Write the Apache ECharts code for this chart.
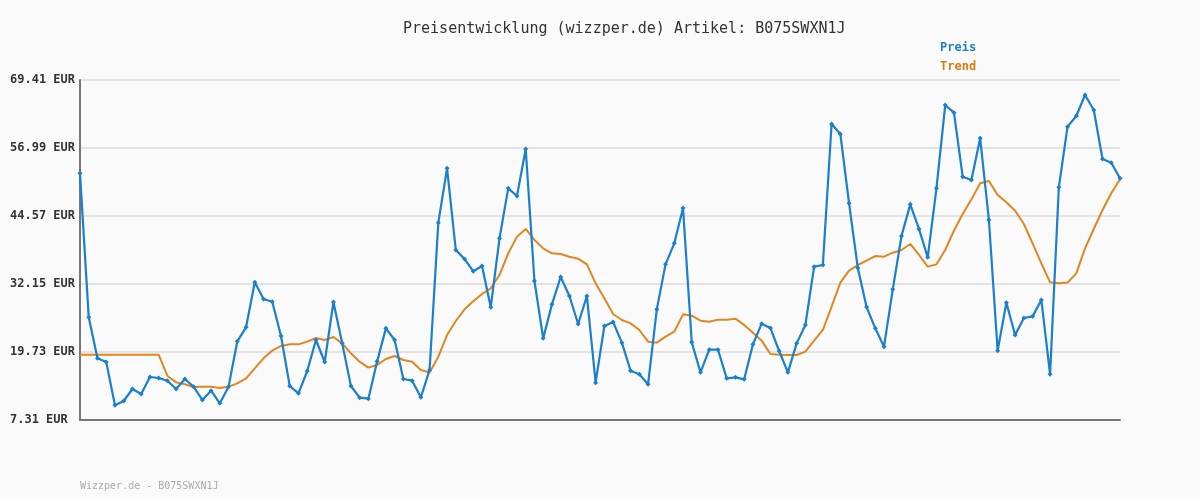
<!DOCTYPE html>
<html>
<head>
<meta charset="utf-8">
<script src="https://cdn.jsdelivr.net/npm/echarts@6/dist/echarts.min.js"></script>
<style>
  html, body { margin: 0; padding: 0; background: #fafafa; }
  #chart { width: 1200px; height: 500px; }
</style>
</head>
<body>
<div id="chart"></div>
<script>
// Preis je Messpunkt (120 Stück)
const preis = [
  52.36, 26.06, 18.57, 17.90, 9.99, 10.78, 12.97, 12.06, 15.16, 14.98,
  14.49, 12.97, 14.80, 13.39, 10.96, 12.66, 10.36, 13.39, 21.68, 24.24,
  32.46, 29.41, 28.92, 22.65, 13.52, 12.18, 16.26, 21.92, 17.90, 28.86,
  21.31, 13.52, 11.39, 11.21, 18.02, 24.05, 21.92, 14.80, 14.49, 11.45,
  16.44, 43.35, 53.28, 38.36, 36.72, 34.46, 35.44, 27.89, 40.49, 49.62,
  48.22, 56.81, 32.70, 22.22, 28.43, 33.43, 29.96, 24.84, 29.96, 14.13,
  24.48, 25.21, 21.43, 16.32, 15.65, 13.83, 27.52, 35.74, 39.58, 46.03,
  21.49, 16.01, 20.15, 20.15, 14.92, 15.10, 14.74, 21.13, 24.90, 24.11,
  19.91, 16.01, 21.31, 24.66, 35.32, 35.62, 61.37, 59.55, 46.88, 35.07,
  27.95, 24.05, 20.70, 31.17, 40.92, 46.70, 42.20, 37.02, 49.62, 64.84,
  63.44, 51.75, 51.14, 58.76, 43.84, 19.97, 28.74, 22.83, 25.94, 26.24,
  29.23, 15.65, 49.81, 60.89, 62.83, 66.67, 63.93, 54.98, 54.31, 51.45
];

// Trendlinie
const trend = [
  19.24, 19.24, 19.24, 19.24, 19.24, 19.24, 19.24, 19.24, 19.24, 19.24,
  15.35, 14.19, 13.83, 13.34, 13.40, 13.40, 13.16, 13.40, 14.01, 14.92,
  16.75, 18.57, 20.00, 20.83, 21.13, 21.13, 21.62, 22.29, 21.92, 22.47,
  21.31, 19.49, 17.96, 16.87, 17.35, 18.45, 19.00, 18.27, 17.96, 16.44,
  15.96, 18.88, 22.83, 25.39, 27.52, 29.00, 30.32, 31.36, 33.79, 37.75,
  40.80, 42.20, 40.19, 38.66, 37.75, 37.63, 37.14, 36.78, 35.74, 32.27,
  29.53, 26.67, 25.57, 24.96, 23.75, 21.62, 21.43, 22.53, 23.44, 26.61,
  26.37, 25.45, 25.27, 25.64, 25.64, 25.82, 24.66, 23.26, 21.80, 19.36,
  19.24, 19.18, 19.18, 19.79, 21.80, 23.75, 28.01, 32.39, 34.59, 35.62,
  36.41, 37.26, 37.14, 37.87, 38.36, 39.46, 37.45, 35.32, 35.74, 38.36,
  41.89, 44.94, 47.61, 50.54, 50.96, 48.41, 47.07, 45.54, 43.11, 39.58,
  35.92, 32.46, 32.27, 32.41, 34.10, 38.66, 42.20, 45.67, 48.71, 51.27
];

const kategorien = preis.map((v, i) => String(i + 1));

const yMin = 7.31;
const yMax = 69.41;
const yStep = 12.42;

const mono = '"DejaVu Sans Mono", "Liberation Mono", monospace';

const chart = echarts.init(document.getElementById('chart'), null, { renderer: 'canvas' });

chart.setOption({
  backgroundColor: '#fafafa',
  animation: false,
  textStyle: { fontFamily: mono },
  title: {
    text: 'Preisentwicklung (wizzper.de) Artikel: B075SWXN1J',
    left: 398,
    top: 17,
    textStyle: { fontFamily: mono, fontSize: 15, fontWeight: 'normal', color: '#333' }
  },
  legend: {
    orient: 'vertical',
    left: 935,
    top: 37,
    itemGap: 7,
    icon: 'none',
    itemWidth: 0,
    itemHeight: 12,
    data: [
      { name: 'Preis', textStyle: { color: '#1a7fcc' } },
      { name: 'Trend', textStyle: { color: '#dd7a10' } }
    ],
    textStyle: { fontFamily: mono, fontSize: 12, fontWeight: 'bold', padding: [0, 0, 0, -5] }
  },
  graphic: [{
    type: 'text',
    left: 80,
    top: 481,
    style: { text: 'Wizzper.de - B075SWXN1J', fill: '#aaa', font: '10px ' + mono }
  }],
  grid: { left: 80, right: 80, top: 80, bottom: 80, containLabel: false },
  xAxis: {
    type: 'category',
    data: kategorien,
    boundaryGap: false,
    axisLine: { lineStyle: { color: '#777', width: 2 } },
    axisTick: { show: false },
    axisLabel: { show: false },
    splitLine: { show: false }
  },
  yAxis: {
    type: 'value',
    min: yMin,
    max: yMax,
    interval: yStep,
    axisLine: { show: true, lineStyle: { color: '#777', width: 2 } },
    axisTick: { show: false },
    axisLabel: {
      align: 'left',
      margin: 70,
      color: '#333',
      fontFamily: mono,
      fontSize: 12,
      fontWeight: 'bold',
      formatter: v => v.toFixed(2) + ' EUR'
    },
    splitLine: { lineStyle: { color: '#e3e3e3', width: 2 } }
  },
  series: [
    {
      name: 'Preis',
      type: 'line',
      data: preis,
      symbol: 'diamond',
      symbolSize: 5,
      showAllSymbol: true,
      lineStyle: { color: '#1a7fcc', width: 2.2 },
      itemStyle: { color: '#1a7fcc' },
      z: 3
    },
    {
      name: 'Trend',
      type: 'line',
      data: trend,
      symbol: 'none',
      lineStyle: { color: '#e0861e', width: 2 },
      itemStyle: { color: '#dd7a10' },
      z: 2
    }
  ]
});
</script>
</body>
</html>
